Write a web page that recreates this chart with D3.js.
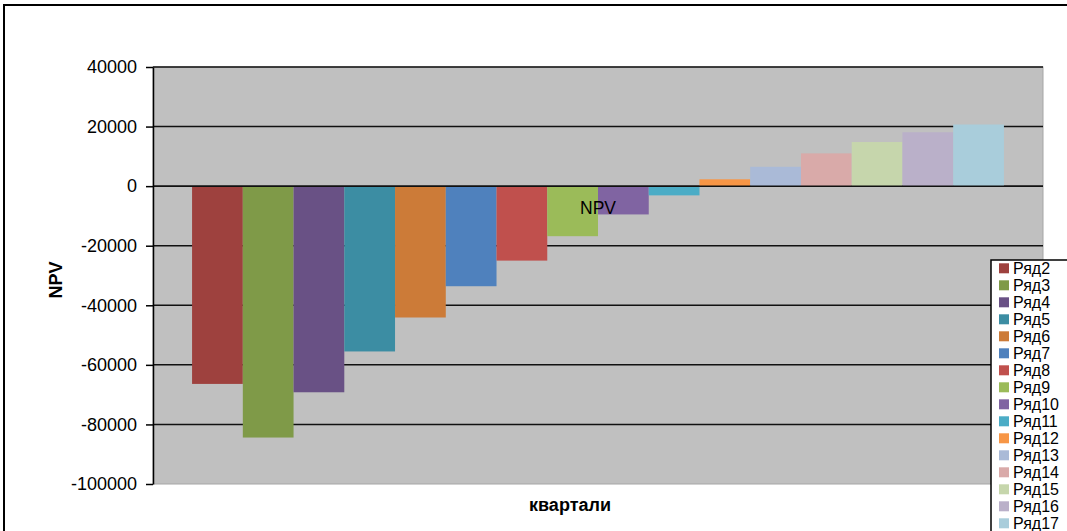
<!DOCTYPE html>
<html>
<head>
<meta charset="utf-8">
<script src="https://cdn.jsdelivr.net/npm/d3@7"></script>
<style>
  body { margin: 0; background: #fff; }
  text { font-family: "Liberation Sans", Arial, sans-serif; }
</style>
</head>
<body>
<script>
var width = 1067;
var height = 531;

// data
var series = ["Ряд2", "Ряд3", "Ряд4", "Ряд5", "Ряд6", "Ряд7", "Ряд8", "Ряд9",
              "Ряд10", "Ряд11", "Ряд12", "Ряд13", "Ряд14", "Ряд15", "Ряд16", "Ряд17"];
var values = [-66400, -84400, -69200, -55500, -44100, -33600, -25000, -16800,
              -9500, -3100, 2300, 6500, 11000, 14800, 18100, 20700];
var colors = ["#9e413e", "#7f9a48", "#695185", "#3c8da3", "#cc7b38", "#4f81bd",
              "#c0504d", "#9bbb59", "#8064a2", "#4bacc6", "#f79646", "#aabad7",
              "#d9aaa9", "#c6d6ac", "#bab0c9", "#a9cddb"];
var yTicks = [40000, 20000, 0, -20000, -40000, -60000, -80000, -100000];

var plot = { left: 153, right: 1043, top: 67, bottom: 484 };

var svg = d3.select("body")
            .append("svg")
            .attr("width", width)
            .attr("height", height);

// outer chart border (runs off the right and bottom edges)
svg.append("rect")
   .attr("x", 4)
   .attr("y", 5)
   .attr("width", 1100)
   .attr("height", 600)
   .attr("fill", "#fff")
   .attr("stroke", "#000")
   .attr("stroke-width", 2);

var y = d3.scaleLinear()
          .domain([-100000, 40000])
          .range([plot.bottom, plot.top]);

var x = d3.scaleBand()
          .domain(series)
          .range([plot.left, plot.right])
          .paddingInner(0)
          .paddingOuter(0.77);

// plot area
svg.append("rect")
   .attr("x", plot.left)
   .attr("y", plot.top)
   .attr("width", plot.right - plot.left)
   .attr("height", plot.bottom - plot.top)
   .attr("fill", "#c0c0c0")
   .attr("stroke", "#a6a6a6")
   .attr("stroke-width", 1);

// gridlines
svg.append("g")
   .selectAll("line")
   .data(yTicks.filter(function(d) { return d > -100000; }))
   .enter()
   .append("line")
   .attr("x1", plot.left)
   .attr("x2", plot.right)
   .attr("y1", function(d) { return y(d); })
   .attr("y2", function(d) { return y(d); })
   .attr("stroke", "#111")
   .attr("stroke-width", 1.5);

// bars
svg.append("g")
   .selectAll("rect")
   .data(values)
   .enter()
   .append("rect")
   .attr("x", function(d, i) { return x(series[i]); })
   .attr("width", x.bandwidth())
   .attr("y", function(d) { return y(Math.max(0, d)); })
   .attr("height", function(d) { return Math.abs(y(d) - y(0)); })
   .attr("fill", function(d, i) { return colors[i]; });

// zero line over bars
svg.append("line")
   .attr("x1", plot.left)
   .attr("x2", plot.right)
   .attr("y1", y(0))
   .attr("y2", y(0))
   .attr("stroke", "#111")
   .attr("stroke-width", 1.5);

// y axis
var yAxis = d3.axisLeft(y)
              .tickValues(yTicks)
              .tickSize(7)
              .tickSizeOuter(0)
              .tickPadding(9)
              .tickFormat(function(d) { return String(d); });

var ax = svg.append("g")
            .attr("transform", "translate(" + plot.left + ",0)")
            .call(yAxis);
ax.select(".domain").attr("stroke", "#000").attr("stroke-width", 1.5);
ax.selectAll(".tick line").attr("stroke", "#000").attr("stroke-width", 1.5);
ax.selectAll(".tick text")
  .attr("font-size", "18px")
  .attr("font-family", "Liberation Sans, Arial, sans-serif")
  .attr("fill", "#000");

// axis titles
svg.append("text")
   .attr("transform", "translate(56,280) rotate(-90)")
   .attr("text-anchor", "middle")
   .attr("dy", "0.35em")
   .attr("font-size", "18px")
   .attr("font-weight", "bold")
   .text("NPV");

svg.append("text")
   .attr("x", 570)
   .attr("y", 505)
   .attr("text-anchor", "middle")
   .attr("dy", "0.35em")
   .attr("font-size", "18px")
   .attr("font-weight", "bold")
   .text("квартали");

// label inside plot
svg.append("text")
   .attr("x", 598)
   .attr("y", 208)
   .attr("text-anchor", "middle")
   .attr("dy", "0.35em")
   .attr("font-size", "17.5px")
   .attr("fill", "#000")
   .text("NPV");

// legend
var legend = svg.append("g");
legend.append("rect")
      .attr("x", 991)
      .attr("y", 260)
      .attr("width", 200)
      .attr("height", 400)
      .attr("fill", "#fff")
      .attr("stroke", "#000")
      .attr("stroke-width", 1.5);

var item = legend.selectAll("g.item")
                 .data(series)
                 .enter()
                 .append("g")
                 .attr("class", "item")
                 .attr("transform", function(d, i) {
                       return "translate(999," + (268.3 + i * 17) + ")";
                 });

item.append("rect")
    .attr("x", 0)
    .attr("y", -5)
    .attr("width", 10)
    .attr("height", 10)
    .attr("fill", function(d, i) { return colors[i]; });

item.append("text")
    .attr("x", 14)
    .attr("dy", "0.35em")
    .attr("font-size", "16px")
    .attr("fill", "#000")
    .text(function(d) { return d; });
</script>
</body>
</html>
